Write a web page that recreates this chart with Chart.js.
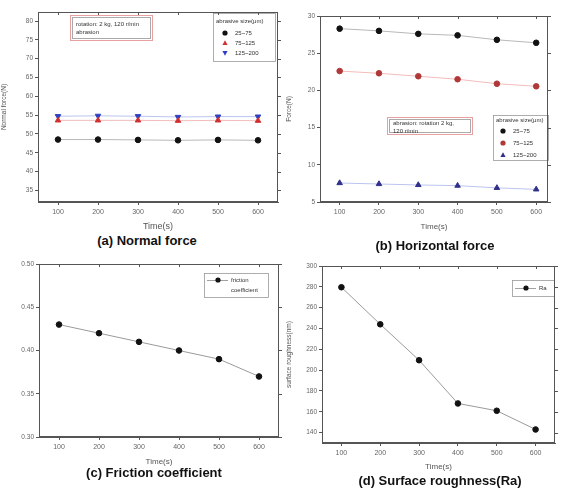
<!DOCTYPE html>
<html>
<head>
<meta charset="utf-8">
<script src="https://cdn.jsdelivr.net/npm/chart.js@4.4.1/dist/chart.umd.min.js"></script>
<style>
  body { margin: 0; width: 563px; height: 491px; background: #fff; position: relative; overflow: hidden; font-family: "Liberation Sans", Arial, sans-serif; }
  canvas { position: absolute; }
  .cap { position: absolute; font-weight: bold; font-size: 13px; color: #111; white-space: nowrap; transform: translateX(-50%); }
</style>
</head>
<body>
<canvas id="chartA" width="285" height="232" style="left:0;top:0"></canvas>
<canvas id="chartB" width="278" height="232" style="left:285px;top:0"></canvas>
<canvas id="chartC" width="285" height="217" style="left:0;top:250px"></canvas>
<canvas id="chartD" width="278" height="222" style="left:285px;top:250px"></canvas>
<div class="cap" style="left:147px;top:233px">(a) Normal force</div>
<div class="cap" style="left:435px;top:238px">(b) Horizontal force</div>
<div class="cap" style="left:154px;top:465px">(c) Friction coefficient</div>
<div class="cap" style="left:440px;top:473px">(d) Surface roughness(Ra)</div>
<script>
// time axis (s)
const times = [100, 200, 300, 400, 500, 600];
const sizeLabels = ['25~75', '75~125', '125~200'];

// (a) normal force, N
const normalSmall = [48.5, 48.5, 48.4, 48.3, 48.4, 48.3];
const normalMid = [53.6, 53.6, 53.6, 53.5, 53.6, 53.5];
const normalLarge = [54.7, 54.8, 54.7, 54.5, 54.6, 54.6];
const normalTicks = [35, 40, 45, 50, 55, 60, 65, 70, 75, 80];

// (b) horizontal force, N
const horizSmall = [28.3, 28.0, 27.6, 27.4, 26.8, 26.4];
const horizMid = [22.6, 22.3, 21.9, 21.5, 20.9, 20.55];
const horizLarge = [7.55, 7.42, 7.29, 7.2, 6.9, 6.7];
const horizTicks = [5, 10, 15, 20, 25, 30];

// (c) friction coefficient
const friction = [0.43, 0.42, 0.41, 0.40, 0.39, 0.37];
const frictionTicks = [0.30, 0.35, 0.40, 0.45, 0.50];

// (d) surface roughness, nm
const roughness = [279.6, 244, 209.5, 168, 161, 143];
const roughTicks = [140, 160, 180, 200, 220, 240, 260, 280, 300];

const FONT = '"Liberation Sans", Arial, sans-serif';

function pts(vals) {
  return vals.map((v, i) => ({ x: times[i], y: v }));
}

function drawMarker(ctx, style, x, y, r, rot) {
  ctx.beginPath();
  if (style === 'triangle') {
    const s = rot ? -1 : 1;
    ctx.moveTo(x, y - s * r * 1.1);
    ctx.lineTo(x + r, y + s * r * 0.8);
    ctx.lineTo(x - r, y + s * r * 0.8);
    ctx.closePath();
  } else {
    ctx.arc(x, y, r, 0, Math.PI * 2);
  }
  ctx.fill();
}

// box frame + mirrored ticks on top/right
const framePlugin = {
  id: 'frame',
  afterDraw(chart) {
    const { ctx, chartArea: a } = chart;
    ctx.save();
    ctx.strokeStyle = '#555';
    ctx.lineWidth = 1;
    ctx.strokeRect(a.left + 0.5, a.top + 0.5, a.width - 1, a.height - 1);
    ctx.beginPath();
    chart.scales.x.ticks.forEach(t => {
      const px = Math.round(chart.scales.x.getPixelForValue(t.value)) + 0.5;
      ctx.moveTo(px, a.top); ctx.lineTo(px, a.top + 3);
    });
    chart.scales.y.ticks.forEach(t => {
      const py = Math.round(chart.scales.y.getPixelForValue(t.value)) + 0.5;
      ctx.moveTo(a.right, py); ctx.lineTo(a.right + 3, py);
    });
    ctx.stroke();
    ctx.restore();
  }
};

// small boxed legend drawn inside the plot
const legendPlugin = {
  id: 'boxLegend',
  afterDatasetsDraw(chart, args, o) {
    if (!o || !o.w) return;
    const { ctx, chartArea: a } = chart;
    const x = a.left + o.x, y = a.top + o.y;
    ctx.save();
    ctx.strokeStyle = '#999';
    ctx.lineWidth = 0.8;
    ctx.strokeRect(x + 0.5, y + 0.5, o.w, o.h);
    ctx.font = '6px ' + FONT;
    ctx.fillStyle = '#333';
    ctx.textBaseline = 'middle';
    if (o.title) ctx.fillText(o.title, x + 3, y + o.titleY);
    chart.data.datasets.forEach((ds, i) => {
      const ry = y + o.rowY + i * o.rowGap;
      if (o.line) {
        ctx.strokeStyle = '#888';
        ctx.beginPath();
        ctx.moveTo(x + 3, ry + 0.5); ctx.lineTo(x + o.textX - 3, ry + 0.5);
        ctx.stroke();
      }
      ctx.fillStyle = ds.pointBackgroundColor;
      drawMarker(ctx, ds.pointStyle, x + o.markX, ry, 2.6, ds.pointRotation);
      ctx.fillStyle = '#333';
      const lines = Array.isArray(ds.label) ? ds.label : [ds.label];
      lines.forEach((ln, k) => ctx.fillText(ln, x + o.textX, ry + k * 10));
    });
    ctx.restore();
  }
};

// red-bordered note box
const notePlugin = {
  id: 'note',
  afterDatasetsDraw(chart, args, o) {
    if (!o || !o.w) return;
    const { ctx, chartArea: a } = chart;
    const x = a.left + o.x, y = a.top + o.y;
    ctx.save();
    ctx.strokeStyle = '#e9a0a0';
    ctx.lineWidth = 1;
    ctx.strokeRect(x + 0.5, y + 0.5, o.w, o.h);
    ctx.strokeStyle = '#aaa';
    ctx.strokeRect(x + 2.5, y + 2.5, o.w - 4, o.h - 4);
    ctx.font = '6px ' + FONT;
    ctx.fillStyle = '#333';
    ctx.textBaseline = 'middle';
    o.lines.forEach((ln, k) => ctx.fillText(ln, x + 6, y + o.lineY + k * 8));
    ctx.restore();
  }
};

function series(label, vals, color, lineColor, style, rot) {
  return {
    label: label,
    data: pts(vals),
    borderColor: lineColor,
    borderWidth: 1,
    pointBackgroundColor: color,
    pointBorderColor: color,
    pointStyle: style,
    pointRotation: rot ? 180 : 0,
    pointRadius: style === 'triangle' ? 3.2 : 2.8,
    tension: 0
  };
}

function makeChart(id, datasets, c) {
  return new Chart(document.getElementById(id), {
    type: 'line',
    data: { datasets: datasets },
    options: {
      responsive: false,
      animation: false,
      layout: { padding: c.pad },
      plugins: {
        legend: { display: false },
        tooltip: { enabled: false },
        boxLegend: c.legend || {},
        note: c.note || {}
      },
      scales: {
        x: {
          type: 'linear',
          min: c.xMin, max: c.xMax,
          afterBuildTicks: s => { s.ticks = times.map(v => ({ value: v })); },
          afterFit: s => { s.height = c.xH; },
          grid: { drawOnChartArea: false, tickLength: 3, color: '#555' },
          border: { color: '#555' },
          ticks: { font: { size: 7, family: FONT }, color: '#666', padding: 3, maxRotation: 0, autoSkip: false },
          title: { display: true, text: 'Time(s)', font: { size: c.xTitleSize || 8, family: FONT }, color: '#555', padding: 0 }
        },
        y: {
          min: c.yMin, max: c.yMax,
          afterBuildTicks: s => { s.ticks = c.yTicks.map(v => ({ value: v })); },
          afterFit: s => { s.width = c.yW; },
          grid: { drawOnChartArea: false, tickLength: 3, color: '#555' },
          border: { color: '#555' },
          ticks: { font: { size: 6.5, family: FONT }, color: '#666', padding: 2, autoSkip: false,
                   callback: v => c.fmt ? c.fmt(v) : v },
          title: { display: !!c.yTitle, text: c.yTitle, font: { size: 6.5, family: FONT }, color: '#555', padding: 0 }
        }
      }
    },
    plugins: [framePlugin, legendPlugin, notePlugin]
  });
}

makeChart('chartA', [
  series(sizeLabels[0], normalSmall, '#111', '#b8b8b8', 'circle'),
  series(sizeLabels[1], normalMid, '#d03030', '#f3bcbc', 'triangle'),
  series(sizeLabels[2], normalLarge, '#3040c0', '#bcc4ee', 'triangle', true)
], {
  pad: { top: 12, right: 7, left: 0, bottom: 0 },
  xMin: 50, xMax: 650, xH: 30, xTitleSize: 9,
  yMin: 31.9, yMax: 82.4, yTicks: normalTicks, yW: 38,
  yTitle: 'Normal force(N)',
  legend: { x: 175, y: 1, w: 62, h: 48, title: 'abrasive size(\u03bcm)', titleY: 8,
            rowY: 20, rowGap: 10, markX: 12, textX: 22, line: false },
  note: { x: 32, y: 3, w: 82, h: 25, lines: ['rotation: 2 kg, 120 r/min', 'abrasion'], lineY: 9 }
});

makeChart('chartB', [
  series(sizeLabels[0], horizSmall, '#111', '#b8b8b8', 'circle'),
  series(sizeLabels[1], horizMid, '#b03838', '#f3bcbc', 'circle'),
  series(sizeLabels[2], horizLarge, '#30308a', '#bcc4ee', 'triangle')
], {
  pad: { top: 16, right: 15, left: 0, bottom: 0 },
  xMin: 50, xMax: 630, xH: 30,
  yMin: 5, yMax: 30, yTicks: horizTicks, yW: 35,
  yTitle: 'Force(N)',
  legend: { x: 173, y: 99, w: 55, h: 45, title: 'abrasive size(\u03bcm)', titleY: 5,
            rowY: 16, rowGap: 12, markX: 10, textX: 20, line: false },
  note: { x: 67, y: 101, w: 85, h: 17, lines: ['abrasion: rotation 2 kg,', '120 r/min'], lineY: 6 }
});

makeChart('chartC', [
  series(['friction', 'coefficient'], friction, '#111', '#9a9a9a', 'circle')
], {
  pad: { top: 14, right: 6, left: 0, bottom: 0 },
  xMin: 50, xMax: 650, xH: 30,
  yMin: 0.30, yMax: 0.50, yTicks: frictionTicks, yW: 39,
  fmt: v => v.toFixed(2),
  legend: { x: 165, y: 9, w: 64, h: 24, titleY: 0,
            rowY: 7, rowGap: 10, markX: 14, textX: 27, line: true }
});

makeChart('chartD', [
  series('Ra', roughness, '#111', '#9a9a9a', 'circle')
], {
  pad: { top: 16, right: 8, left: 0, bottom: 0 },
  xMin: 50, xMax: 650, xH: 29,
  yMin: 130, yMax: 300, yTicks: roughTicks, yW: 37,
  yTitle: 'surface roughness(nm)',
  legend: { x: 190, y: 14, w: 42, h: 16, titleY: 0,
            rowY: 8, rowGap: 10, markX: 14, textX: 27, line: true }
});
</script>
</body>
</html>
